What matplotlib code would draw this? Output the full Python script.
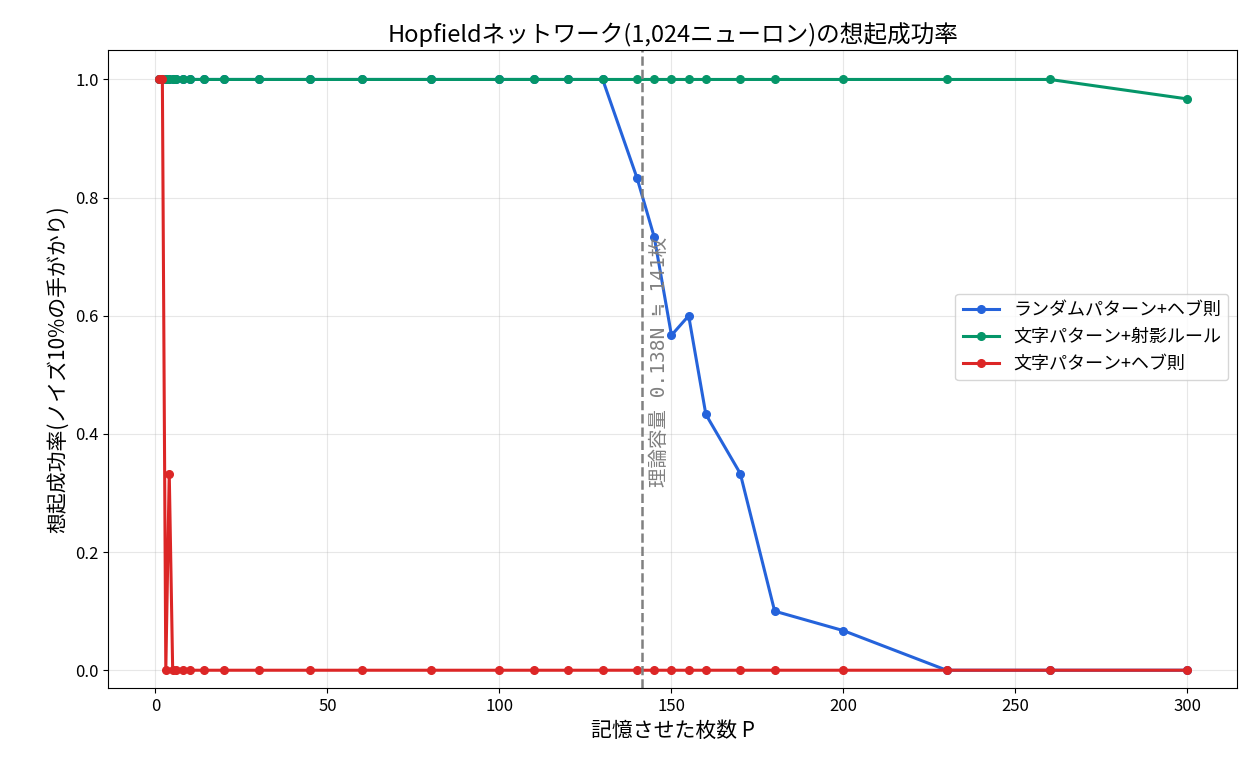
import matplotlib
matplotlib.use('Agg')
import matplotlib.pyplot as plt

plt.rcParams['font.family'] = ['Noto Sans CJK JP', 'DejaVu Sans']

P = [1, 2, 3, 4, 5, 6, 8, 10, 14, 20, 30, 45, 60, 80, 100, 110, 120, 130,
     140, 145, 150, 155, 160, 170, 180, 200, 230, 260, 300]
random_hebb = [1.0] * 18 + [0.833, 0.733, 0.567, 0.6, 0.433, 0.333, 0.1, 0.067, 0.0, 0.0, 0.0]
char_proj = [1.0] * 28 + [0.967]
char_hebb = [1.0, 1.0, 0.0, 0.333] + [0.0] * 25
capacity = 0.138 * 1024

fig, ax = plt.subplots(figsize=(12.6, 7.8), dpi=100)
ax.plot(P, random_hebb, 'o-', color='#2563db', lw=2.2, ms=5.5, label='ランダムパターン+ヘブ則')
ax.plot(P, char_proj, 'o-', color='#059669', lw=2.2, ms=5.5, label='文字パターン+射影ルール')
ax.plot(P, char_hebb, 'o-', color='#dc2626', lw=2.2, ms=5.5, label='文字パターン+ヘブ則')
ax.axvline(capacity, color='gray', ls='--', lw=1.8)
ax.text(capacity + 2.5, 0.31, '理論容量 0.138N ≒ 141枚', rotation=90, color='gray',
        fontsize=14, ha='left', va='bottom', family=['DejaVu Sans Mono', 'Noto Sans CJK JP'])

ax.set_xlim(-13.7, 314.5)
ax.set_ylim(-0.03, 1.05)
ax.set_xlabel('記憶させた枚数 P', fontsize=15)
ax.set_ylabel('想起成功率(ノイズ10%の手がかり)', fontsize=15)
ax.set_title('Hopfieldネットワーク(1,024ニューロン)の想起成功率', fontsize=17)
ax.tick_params(labelsize=12)
ax.grid(alpha=0.3)
ax.legend(loc='center right', fontsize=13, bbox_to_anchor=(1.0, 0.55))
fig.subplots_adjust(left=0.086, right=0.982, top=0.936, bottom=0.118)
fig.savefig('out.png')
